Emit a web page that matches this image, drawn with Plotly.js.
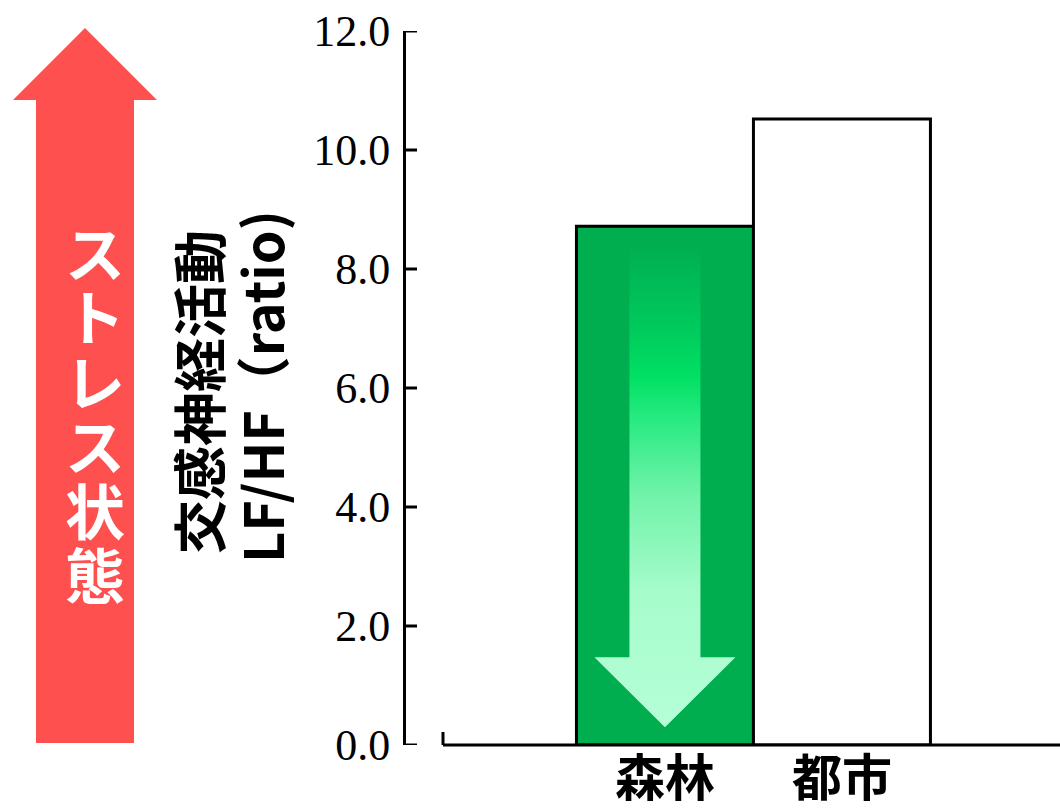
<!DOCTYPE html>
<html>
<head>
<meta charset="utf-8">
<script src="https://cdn.plot.ly/plotly-3.0.1.min.js"></script>
<style>
html,body{margin:0;padding:0;background:#fff;}
#chart{width:1060px;height:812px;}
</style>
</head>
<body>
<div id="chart"></div>
<script>
// ---- data ----
const categories = ['森林', '都市'];
const lfhfValues = [8.72, 10.52];
const barColors = ['#00AE50', '#FFFFFF'];
const yTickValues = [0, 2, 4, 6, 8, 10, 12];
const yTitleLines = ['交感神経活動', 'LF/HF（ratio)'];
const stressLabel = 'ストレス状態';

// ---- layout geometry ----
const W = 1060, H = 812, ML = 406, MR = 0, MT = 31, MB = 67;
const PW = W - ML - MR, PH = H - MT - MB;
const px = p => (p - ML) / PW;        // pixel x -> paper x
const py = p => (H - MB - p) / PH;    // pixel y -> paper y

const CJK = '"Noto Sans CJK JP", "Noto Sans", sans-serif';

// red "stress" arrow (decoration) in paper coordinates
const redPts = [[13,100],[85,28],[157,100],[134,100],[134,743],[36,743],[36,100]];
const redPath = 'M ' + redPts.map(p => px(p[0]).toFixed(5) + ',' + py(p[1]).toFixed(5)).join(' L ') + ' Z';

// gradient down-arrow (decoration) as inline SVG
const arrowSvg =
 '<svg xmlns="http://www.w3.org/2000/svg" width="141" height="482" viewBox="0 0 141 482" preserveAspectRatio="none">' +
 '<defs><linearGradient id="g" x1="0" y1="0" x2="0" y2="1">' +
 '<stop offset="0" stop-color="#00AE50"/>' +
 '<stop offset="0.07" stop-color="#00BA57"/>' +
 '<stop offset="0.18" stop-color="#00CC5D"/>' +
 '<stop offset="0.27" stop-color="#00E063"/>' +
 '<stop offset="0.36" stop-color="#28EA82"/>' +
 '<stop offset="0.52" stop-color="#72F3AA"/>' +
 '<stop offset="0.72" stop-color="#A6FCCB"/>' +
 '<stop offset="1" stop-color="#B5FFD7"/>' +
 '</linearGradient></defs>' +
 '<path d="M35,0 L106,0 L106,412 L141,412 L70.5,482 L0,412 L35,412 Z" fill="url(#g)"/>' +
 '</svg>';
const arrowSrc = 'data:image/svg+xml;utf8,' + encodeURIComponent(arrowSvg);

const barTrace = {
  type: 'bar',
  x: categories,
  y: lfhfValues,
  width: 1,
  marker: { color: barColors, line: { color: '#000', width: 3 } },
  hoverinfo: 'x+y'
};

const annotations = [];
// y-axis title lines (rotated)
annotations.push({
  text: yTitleLines[0], xref: 'paper', yref: 'paper',
  x: px(197), y: py(392), xanchor: 'center', yanchor: 'middle',
  textangle: -90, showarrow: false,
  font: { family: CJK, size: 54, color: '#000', weight: 'bold' }
});
annotations.push({
  text: yTitleLines[1], xref: 'paper', yref: 'paper',
  x: px(260), y: py(387), xanchor: 'center', yanchor: 'middle',
  textangle: -90, showarrow: false,
  font: { family: CJK, size: 54, color: '#000', weight: 'bold' }
});
// stress label, one char per line (tight vertical pitch as in the reference)
Array.from(stressLabel).forEach((ch, i) => {
  annotations.push({
    text: ch, xref: 'paper', yref: 'paper',
    x: px(95), y: py(250 + i * 64.5), xanchor: 'center', yanchor: 'middle',
    showarrow: false,
    font: { family: CJK, size: 60, color: '#FFFFFF', weight: 'bold' }
  });
});

const shapes = [
  { type: 'path', xref: 'paper', yref: 'paper', path: redPath,
    fillcolor: '#FF5050', line: { width: 0 }, layer: 'below' },
  // x-axis baseline starting right of the y-axis, with its small end stub
  { type: 'line', xref: 'paper', yref: 'paper',
    x0: px(443), x1: 1, y0: 0, y1: 0,
    line: { color: '#000', width: 3 }, layer: 'above' },
  { type: 'line', xref: 'paper', yref: 'paper',
    x0: px(443), x1: px(443), y0: 0, y1: py(732),
    line: { color: '#000', width: 3 }, layer: 'above' }
];
// rightward (inside) y tick marks at each tick value
yTickValues.forEach(v => {
  shapes.push({ type: 'line', xref: 'paper', yref: 'y',
    x0: 0, x1: px(417), y0: v, y1: v,
    line: { color: '#000', width: 3 }, layer: 'above' });
});

const layout = {
  width: W, height: H,
  margin: { l: ML, r: MR, t: MT, b: MB, pad: 0 },
  paper_bgcolor: '#fff', plot_bgcolor: '#fff',
  showlegend: false,
  bargap: 0,
  xaxis: {
    type: 'category',
    range: [-1.463, 2.232],
    showline: false,
    ticks: '', showgrid: false, zeroline: false,
    tickfont: { family: CJK, size: 50, color: '#000', weight: 'bold' },
    fixedrange: true
  },
  yaxis: {
    range: [0, 12],
    tickmode: 'array',
    tickvals: yTickValues,
    tickformat: '.1f',
    ticks: '',
    showline: true, linecolor: '#000', linewidth: 3,
    showgrid: false, zeroline: false,
    tickfont: { family: '"Liberation Serif", "Times New Roman", serif', size: 44, color: '#000' },
    ticklabelstandoff: 4,
    fixedrange: true
  },
  shapes: shapes,
  images: [
    { source: arrowSrc, xref: 'x', yref: 'y',
      x: 0, y: lfhfValues[0] - 0.33,
      sizex: 141 / 177, sizey: lfhfValues[0] - 0.33 - 0.30,
      xanchor: 'center', yanchor: 'top', sizing: 'stretch', layer: 'above' }
  ],
  annotations: annotations
};

Plotly.newPlot('chart', [barTrace], layout, { staticPlot: true, displayModeBar: false });
</script>
</body>
</html>
